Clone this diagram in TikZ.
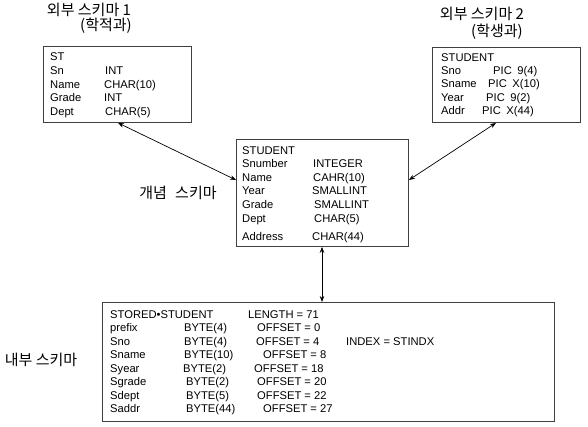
\documentclass[tikz,border=0pt]{standalone}
\usepackage{fontspec}
\setmainfont{Liberation Sans}
\newfontfamily\kr{Noto Sans CJK KR}
\usetikzlibrary{arrows.meta,calc}
\tikzset{
  box/.style={draw=black!75, line width=0.9pt, anchor=north west, inner sep=0pt},
  txt/.style={anchor=base west, inner sep=0pt, font=\fontsize{11.2}{13}\selectfont},
  ttl/.style={anchor=center, inner sep=0pt, font=\kr\fontsize{15}{17}\selectfont},
  link/.style={line width=0.7pt, {Stealth[length=6pt,width=4.5pt]}-{Stealth[length=6pt,width=4.5pt]}}
}
\begin{document}
\begin{tikzpicture}[x=1pt,y=-1pt]
\useasboundingbox (0,0) rectangle (588,427);
% boxes
\node[box, minimum width=148pt, minimum height=76pt] (b1) at (43,46) {};
\node[box, minimum width=148pt, minimum height=75pt] (b2) at (432,47) {};
\node[box, minimum width=172pt, minimum height=107pt] (b3) at (236,139) {};
\node[box, minimum width=452pt, minimum height=119pt] (b4) at (102,302) {};
% titles
\node[ttl] (h1) at (89,10) {외부 스키마 1};
\node[ttl] (h1b) at (106,26) {(학적과)};
\node[ttl] (h2) at (482,14) {외부 스키마 2};
\node[ttl] (h2b) at (497,32) {(학생과)};
\node[ttl] (h3) at (178,193) {개념\hspace{0.55em}스키마};
\node[ttl] (h4) at (41,360) {내부 스키마};
% box 1
\node[txt] (a0) at (50,61) {ST};
\node[txt] (a1) at (50,75) {Sn};
\node[txt] (a2) at (50,89) {Name};
\node[txt] (a3) at (50,102) {Grade};
\node[txt] (a4) at (50,116) {Dept};
\node[txt] (a1t) at (105,75) {INT};
\node[txt] (a2t) at (104,89) {CHAR(10)};
\node[txt] (a3t) at (104,102) {INT};
\node[txt] (a4t) at (105,116) {CHAR(5)};
% box 2
\node[txt] (c0) at (441,62) {STUDENT};
\node[txt] (c1) at (441,75) {Sno};
\node[txt] (c2) at (441,88) {Sname};
\node[txt] (c3) at (441,102) {Year};
\node[txt] (c4) at (441,115) {Addr};
\node[txt] (c1t) at (493,75) {PIC\hspace{0.5em}9(4)};
\node[txt] (c2t) at (488,88) {PIC\hspace{0.5em}X(10)};
\node[txt] (c3t) at (486,102) {PIC\hspace{0.5em}9(2)};
\node[txt] (c4t) at (482,115) {PIC\hspace{0.5em}X(44)};
% box 3
\node[txt] (d0) at (242,155) {STUDENT};
\node[txt] (d1) at (242,168) {Snumber};
\node[txt] (d2) at (242,182) {Name};
\node[txt] (d3) at (242,195) {Year};
\node[txt] (d4) at (242,209) {Grade};
\node[txt] (d5) at (242,223) {Dept};
\node[txt] (d6) at (242,241) {Address};
\node[txt] (d1t) at (313,168) {INTEGER};
\node[txt] (d2t) at (313,182) {CAHR(10)};
\node[txt] (d3t) at (312,195) {SMALLINT};
\node[txt] (d4t) at (314,209) {SMALLINT};
\node[txt] (d5t) at (314,223) {CHAR(5)};
\node[txt] (d6t) at (312,241) {CHAR(44)};
% box 4
\node[txt] (e0) at (110,318) {STORED•STUDENT};
\node[txt] (e1) at (110,331.5) {prefix};
\node[txt] (e2) at (110,345) {Sno};
\node[txt] (e3) at (110,358.5) {Sname};
\node[txt] (e4) at (110,372) {Syear};
\node[txt] (e5) at (110,385.5) {Sgrade};
\node[txt] (e6) at (110,399) {Sdept};
\node[txt] (e7) at (110,412.5) {Saddr};
\node[txt] (e1t) at (184,331.5) {BYTE(4)};
\node[txt] (e2t) at (184,345) {BYTE(4)};
\node[txt] (e3t) at (184,358.5) {BYTE(10)};
\node[txt] (e4t) at (183,372) {BYTE(2)};
\node[txt] (e5t) at (186,385.5) {BYTE(2)};
\node[txt] (e6t) at (186,399) {BYTE(5)};
\node[txt] (e7t) at (186,412.5) {BYTE(44)};
\node[txt] (e0o) at (248,318) {LENGTH = 71};
\node[txt] (e1o) at (257,331.5) {OFFSET = 0};
\node[txt] (e2o) at (256,345) {OFFSET = 4};
\node[txt] (e3o) at (263,358.5) {OFFSET = 8};
\node[txt] (e4o) at (254,372) {OFFSET = 18};
\node[txt] (e5o) at (257,385.5) {OFFSET = 20};
\node[txt] (e6o) at (257,399) {OFFSET = 22};
\node[txt] (e7o) at (263,412.5) {OFFSET = 27};
\node[txt] (ix) at (346,345) {INDEX = STINDX};
% connectors
\draw[link] ($(b1.south west)+(75,0)$) -- ($(b3.north west)+(0,41)$);
\draw[link] ($(b2.south west)+(64,0)$) -- ($(b3.north east)+(0,41)$);
\draw[link] ($(b3.south west)+(86,0)$) -- ($(b4.north west)+(220,0)$);
\end{tikzpicture}
\end{document}
